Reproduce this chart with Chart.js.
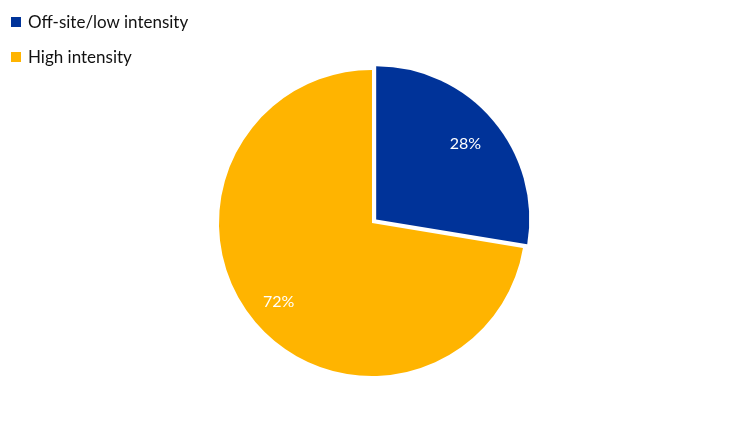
<!DOCTYPE html>
<html>
<head>
<meta charset="utf-8">
<script src="https://cdn.jsdelivr.net/npm/chart.js@4"></script>
<style>
  html, body { margin: 0; padding: 0; background: #fff; }
  #wrap { position: relative; width: 742px; height: 444px; }
  #legenda { position: absolute; left: 11px; top: 4px; font-family: Lato, sans-serif; font-size: 17px; color: #111; }
  #legenda div { height: 35px; display: flex; align-items: center; }
  #legenda span.cor { display: inline-block; width: 10px; height: 10px; margin-right: 7px; }
</style>
</head>
<body>
<div id="wrap">
  <canvas id="graficoPizza" width="742" height="444"></canvas>
  <div id="legenda"></div>
</div>
<script>
// dados (rótulos mostram o valor arredondado)
const categorias = ['Off-site/low intensity', 'High intensity'];
const valores = [27.6, 72.4];
const cores = ['#003399', '#FFB400'];

// legenda em HTML (canto superior esquerdo)
const legenda = document.getElementById('legenda');
categorias.forEach((nome, i) => {
    legenda.innerHTML += `<div><span class="cor" style="background:${cores[i]}"></span>${nome}</div>`;
});

// rótulos de porcentagem dentro das fatias
const rotulos = {
    id: 'rotulos',
    afterDatasetsDraw(chart) {
        const ctx = chart.ctx;
        const meta = chart.getDatasetMeta(0);
        ctx.save();
        ctx.fillStyle = '#fff';
        ctx.font = '16px Lato, sans-serif';
        ctx.textAlign = 'center';
        ctx.textBaseline = 'middle';
        meta.data.forEach((arc, i) => {
            const p = arc.getProps(['x', 'y', 'startAngle', 'endAngle', 'outerRadius'], true);
            const meio = (p.startAngle + p.endAngle) / 2;
            const r = p.outerRadius * 0.8;
            ctx.fillText(Math.round(valores[i]) + '%', p.x + Math.cos(meio) * r, p.y + Math.sin(meio) * r);
        });
        ctx.restore();
    }
};

new Chart(document.getElementById('graficoPizza'), {
    type: 'pie',
    data: {
        labels: categorias,
        datasets: [{
            data: valores,
            backgroundColor: cores,
            borderWidth: 0,
            offset: [22, 0]
        }]
    },
    options: {
        responsive: false,
        animation: false,
        layout: { padding: { top: 59, bottom: 57, left: 172, right: 170 } },
        plugins: {
            legend: { display: false },
            tooltip: { enabled: false }
        }
    },
    plugins: [rotulos]
});
</script>
</body>
</html>
